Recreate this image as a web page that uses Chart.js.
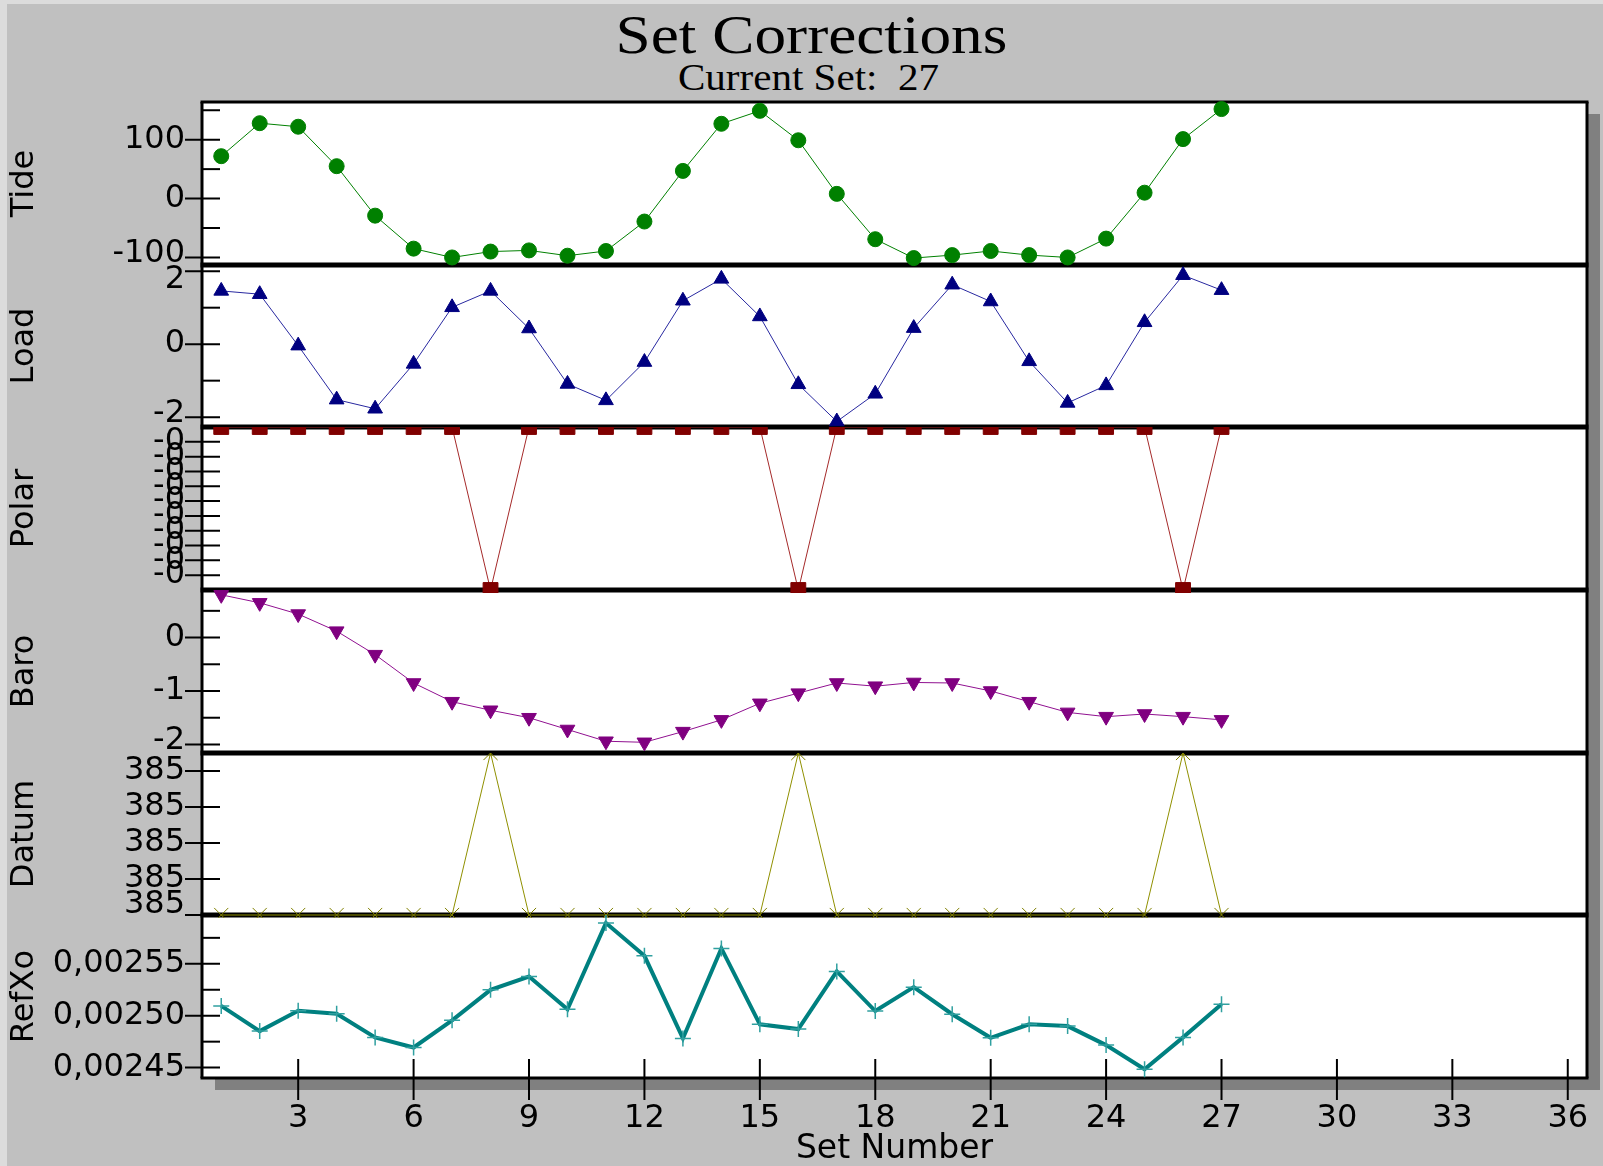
<!DOCTYPE html>
<html>
<head>
<meta charset="utf-8">
<title>Set Corrections</title>
<script src="https://cdn.jsdelivr.net/npm/chart.js@4.4.1/dist/chart.umd.min.js"></script>
<style>
  html, body { margin: 0; padding: 0; }
  body { width: 1603px; height: 1166px; background: #c0c0c0; position: relative; overflow: hidden; }
  .edge { position: absolute; background: #dcdcdc; }
  #plotBg { position: absolute; left: 202px; top: 102px; width: 1385px; height: 976px; background: #fff; box-shadow: 13px 12px 0 #808080; }
  .head { position: absolute; width: 1603px; text-align: center; color: #000; white-space: pre;
          font-family: "Liberation Serif", "Times New Roman", serif; }
  #title { left: 10px; top: 7px; font-size: 55px; line-height: 55px; transform: scaleX(1.15); }
  #sub { left: 7px; top: 59px; font-size: 37px; line-height: 37px; transform: scaleX(1.11); }
  canvas { position: absolute; left: 0; }
</style>
</head>
<body>
<div class="edge" style="left:0;top:0;width:1603px;height:4px"></div>
<div class="edge" style="left:0;top:0;width:7px;height:1166px"></div>
<div id="title" class="head">Set Corrections</div>
<div id="sub" class="head">Current Set:  27</div>
<div id="plotBg"></div>
<canvas id="c-tide"></canvas>
<canvas id="c-load"></canvas>
<canvas id="c-polar"></canvas>
<canvas id="c-baro"></canvas>
<canvas id="c-datum"></canvas>
<canvas id="c-refxo"></canvas>
<script>
// --- data ---
const setNumbers = [1, 2, 3, 4, 5, 6, 7, 8, 9, 10, 11, 12, 13, 14, 15, 16, 17, 18, 19, 20, 21, 22, 23, 24, 25, 26, 27];

const tideValues = [72, 128, 122, 55, -29, -85, -100, -90, -88, -97, -89, -39, 47, 127, 149, 99, 8, -69, -101, -96, -89, -96, -100, -68, 10, 101, 152];
const loadValues = [1.46, 1.37, -0.04, -1.52, -1.77, -0.54, 1.01, 1.46, 0.43, -1.09, -1.54, -0.49, 1.19, 1.79, 0.76, -1.10, -2.12, -1.36, 0.44, 1.63, 1.17, -0.47, -1.61, -1.13, 0.60, 1.89, 1.48];
const polarValues = [0, 0, 0, 0, 0, 0, 0, -0.0011, 0, 0, 0, 0, 0, 0, 0, -0.0011, 0, 0, 0, 0, 0, 0, 0, 0, 0, -0.0011, 0];
const baroValues = [0.80, 0.65, 0.44, 0.12, -0.32, -0.85, -1.20, -1.36, -1.50, -1.72, -1.94, -1.96, -1.76, -1.54, -1.23, -1.04, -0.85, -0.91, -0.84, -0.85, -1.00, -1.20, -1.40, -1.48, -1.43, -1.48, -1.54];
const datumValues = [385, 385, 385, 385, 385, 385, 385, 385.0045, 385, 385, 385, 385, 385, 385, 385, 385.0045, 385, 385, 385, 385, 385, 385, 385, 385, 385, 385.0045, 385];
const refXoValues = [0.0025094, 0.0024852, 0.0025048, 0.0025019, 0.0024791, 0.0024694, 0.0024956, 0.0025249, 0.0025377, 0.0025062,
                     0.0025894, 0.0025577, 0.0024781, 0.0025648, 0.0024917, 0.0024871, 0.0025426, 0.0025045, 0.0025275, 0.0025014,
                     0.0024787, 0.0024917, 0.0024900, 0.0024717, 0.0024485, 0.0024791, 0.0025110];

// tick values and their labels ('' = minor tick, no label)
const xTickValues = [3, 6, 9, 12, 15, 18, 21, 24, 27, 30, 33, 36];
const xTickLabels = ['3', '6', '9', '12', '15', '18', '21', '24', '27', '30', '33', '36'];
const tideTickValues = [-100, -50, 0, 50, 100, 150];
const tideTickLabels = ['-100', '', '0', '', '100', ''];
const loadTickValues = [-2, -1, 0, 1, 2];
const loadTickLabels = ['-2', '', '0', '', '2'];
const polarTickValues = [-0.001, -0.0009, -0.0008, -0.0007, -0.0006, -0.0005, -0.0004, -0.0003, -0.0002, -0.0001];
const polarTickLabels = ['-0', '-0', '-0', '-0', '-0', '-0', '-0', '-0', '-0', '-0'];
const baroTickValues = [-2, -1.5, -1, -0.5, 0, 0.5];
const baroTickLabels = ['-2', '', '-1', '', '0', ''];
const datumTickValues = [385, 385.001, 385.002, 385.003, 385.004];
const datumTickLabels = ['385', '385', '385', '385', '385'];
const refXoTickValues = [0.00245, 0.002475, 0.0025, 0.002525, 0.00255, 0.002575];
const refXoTickLabels = ['0,00245', '', '0,00250', '', '0,00255', ''];

// --- layout ---
const SANS = '"DejaVu Sans", "Liberation Sans", Arial, sans-serif';
const edges = [102, 265, 427, 590, 753, 915, 1078];   // panel borders, page px
const MARGIN = 14;

const panels = [
  { id: 'c-tide', title: 'Tide', values: tideValues, ticks: tideTickValues, labels: tideTickLabels,
    min: -112.8, max: 164, color: '#008000', line: '#008000', lineWidth: 1, marker: 'circle', radius: 7.5,
    nudge: { 0: -3.5 } },
  { id: 'c-load', title: 'Load', values: loadValues, ticks: loadTickValues, labels: loadTickLabels,
    min: -2.27, max: 2.17, color: '#000080', line: '#2828a0', lineWidth: 1, marker: 'triangle', radius: 8.5,
    nudge: { 0: -3, 4: 8 } },
  { id: 'c-polar', title: 'Polar', values: polarValues, ticks: polarTickValues, labels: polarTickLabels,
    min: -0.0011, max: 0, color: '#800000', line: '#a52a2a', lineWidth: 1, marker: 'rect', radius: 10.5,
    clip: { left: 20, right: 20, top: 0, bottom: 3 } },
  { id: 'c-baro', title: 'Baro', values: baroValues, ticks: baroTickValues, labels: baroTickLabels,
    min: -2.16, max: 0.89, color: '#800080', line: '#901090', lineWidth: 1, marker: 'triangle', radius: 8.5, rotation: 180,
    nudge: { 0: -4 } },
  { id: 'c-datum', title: 'Datum', values: datumValues, ticks: datumTickValues, labels: datumTickLabels,
    min: 385, max: 385.0045, color: '#808000', line: '#909000', lineWidth: 1, marker: 'crossRot', radius: 10, markerBorder: 1,
    clip: { left: 20, right: 20, top: 0, bottom: 3 }, nudge: { 0: -10 } },
  { id: 'c-refxo', title: 'RefXo', values: refXoValues, ticks: refXoTickValues, labels: refXoTickLabels,
    min: 0.00244, max: 0.002597, color: '#30a0a0', line: '#008080', lineWidth: 4, marker: 'cross', radius: 8, markerBorder: 1.5,
    last: true }
];

// frame, separators and the tick marks (inside + outside) drawn from the scales
const framePlugin = {
  id: 'frame',
  beforeDatasetsDraw(chart, args, opts) {
    const { ctx, chartArea: a, scales } = chart;
    const seg = (x1, y1, x2, y2, w) => {
      ctx.lineWidth = w;
      ctx.beginPath(); ctx.moveTo(x1, y1); ctx.lineTo(x2, y2); ctx.stroke();
    };
    ctx.save();
    ctx.strokeStyle = '#000';
    if (opts.first) seg(a.left - 1.5, a.top, a.right + 1.5, a.top, 3);
    seg(a.left, a.top, a.left, a.bottom, 3);
    seg(a.right, a.top, a.right, a.bottom, 3);
    seg(a.left - 1.5, a.bottom, a.right + 1.5, a.bottom, opts.last ? 3 : 5);
    const y = scales.y;
    y.ticks.forEach(t => {
      const p = y.getPixelForValue(t.value);
      seg(t.label && t.label.length ? a.left - 17 : a.left, p, a.left + 18, p, 2);
    });
    if (opts.last) {
      const x = scales.x;
      x.ticks.forEach(t => {
        const p = x.getPixelForValue(t.value);
        seg(p, a.bottom - 19, p, a.bottom + 22, 2);
      });
    }
    ctx.restore();
  }
};

function makePanel(p, i) {
  const canvas = document.getElementById(p.id);
  const top = edges[i] - MARGIN;
  const height = p.last ? 1166 - top : edges[i + 1] - edges[i] + 2 * MARGIN;
  canvas.width = 1603;
  canvas.height = height;
  canvas.style.top = top + 'px';
  const nudge = p.nudge || {};

  return new Chart(canvas, {
    type: 'line',
    data: {
      labels: setNumbers,
      datasets: [{
        data: p.values,
        borderColor: p.line,
        borderWidth: p.lineWidth,
        pointStyle: p.marker,
        pointRadius: p.radius,
        pointRotation: p.rotation || 0,
        pointBackgroundColor: p.color,
        pointBorderColor: p.color,
        pointBorderWidth: p.markerBorder || 1,
        tension: 0,
        clip: p.clip || 8
      }]
    },
    options: {
      responsive: false,
      animation: false,
      events: [],
      layout: { padding: { top: MARGIN, bottom: p.last ? 0 : MARGIN, left: 0, right: 16 } },
      plugins: {
        legend: { display: false },
        tooltip: { enabled: false },
        frame: { first: i === 0, last: !!p.last }
      },
      scales: {
        x: {
          type: 'linear',
          min: 0.5,
          max: 36.5,
          display: !!p.last,
          grid: { display: false, drawTicks: false },
          border: { display: false },
          afterBuildTicks: s => { s.ticks = xTickValues.map(v => ({ value: v })); },
          afterFit: s => {
            if (p.last) s.height = 88;
            s.paddingLeft = 0;
            s.paddingRight = 0;
          },
          ticks: {
            autoSkip: false,
            maxRotation: 0,
            padding: 21,
            color: '#000',
            font: { family: SANS, size: 32 },
            callback: (v, idx) => xTickLabels[idx]
          },
          title: {
            display: true,
            text: 'Set Number',
            color: '#000',
            font: { family: SANS, size: 33, lineHeight: 1 },
            padding: { top: 0, bottom: 0 }
          }
        },
        y: {
          type: 'linear',
          min: p.min,
          max: p.max,
          grid: { display: false, drawTicks: false },
          border: { display: false },
          afterBuildTicks: s => { s.ticks = p.ticks.map(v => ({ value: v })); },
          afterFit: s => { s.width = 202; s.paddingTop = 0; s.paddingBottom = 0; },
          ticks: {
            autoSkip: false,
            padding: 17,
            color: '#000',
            font: ctx => ({
              family: SANS,
              size: 32,
              lineHeight: nudge[ctx.index] ? Math.abs(nudge[ctx.index]) * 2 + 'px' : 1.2
            }),
            // labels near a panel edge are pushed back inside it
            callback: (v, idx) => {
              const text = p.labels[idx];
              const n = nudge[idx];
              if (!n || !text) return text;
              return n > 0 ? ['', text] : [text, ''];
            }
          },
          title: {
            display: true,
            text: p.title,
            color: '#000',
            font: { family: SANS, size: 32 },
            padding: { top: 5, bottom: 0 }
          }
        }
      }
    },
    plugins: [framePlugin]
  });
}

panels.forEach(makePanel);
</script>
</body>
</html>
